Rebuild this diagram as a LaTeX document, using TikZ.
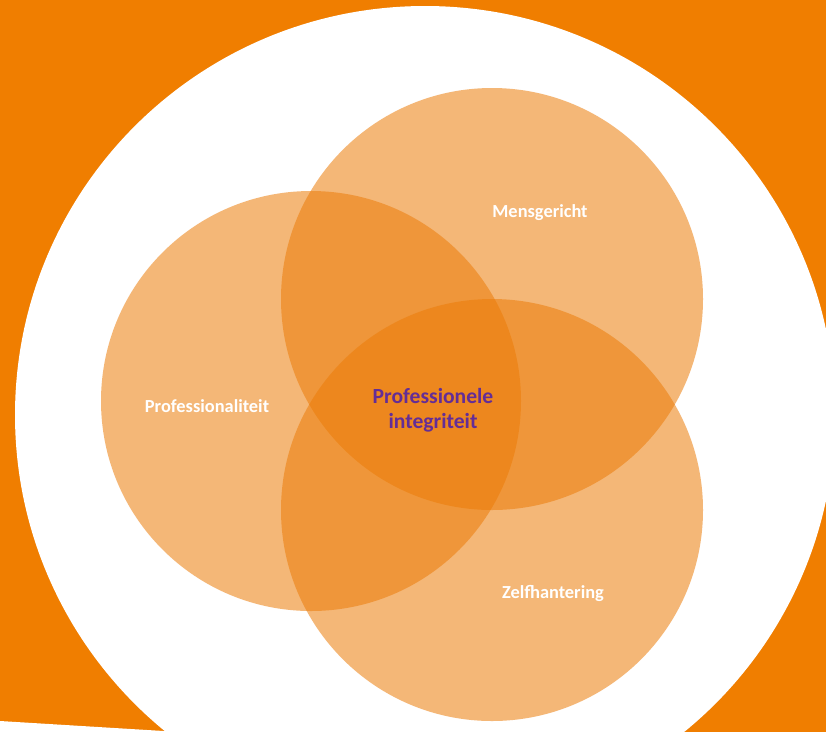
\documentclass[tikz,border=0pt]{standalone}
\usepackage{fontspec}
\setmainfont{Carlito}
\definecolor{bgorange}{RGB}{240,126,0}
\definecolor{circorange}{RGB}{236,124,8}
\definecolor{purpletext}{RGB}{100,45,150}
\begin{document}
\begin{tikzpicture}[x=1pt,y=-1pt,
  venn/.style={fill=circorange,fill opacity=0.55,draw=none},
  lbl/.style={text=white,font=\bfseries\fontsize{18.4}{22}\selectfont,inner sep=0pt},
  centerlbl/.style={text=purpletext,font=\bfseries\fontsize{21.6}{25}\selectfont,align=center,inner sep=0pt}]
\useasboundingbox (0,0) rectangle (826,732);
\fill[bgorange] (0,0) rectangle (826,732);
\fill[white] (425,415) ellipse [x radius=410, y radius=409];
\fill[white] (0,721) -- (180,732) -- (0,732) -- cycle;
\fill[venn] (311,401) circle [radius=210];
\fill[venn] (492,299) circle [radius=211];
\fill[venn] (492,510) circle [radius=211];
\node[lbl] (m) at (540,213) {Mensgericht};
\node[lbl] (p) at (207,406) {Professionaliteit};
\node[lbl] (z) at (553,593) {Zelfhantering};
\node[centerlbl] (c) at (433,410) {Professionele\\integriteit};
\end{tikzpicture}
\end{document}
